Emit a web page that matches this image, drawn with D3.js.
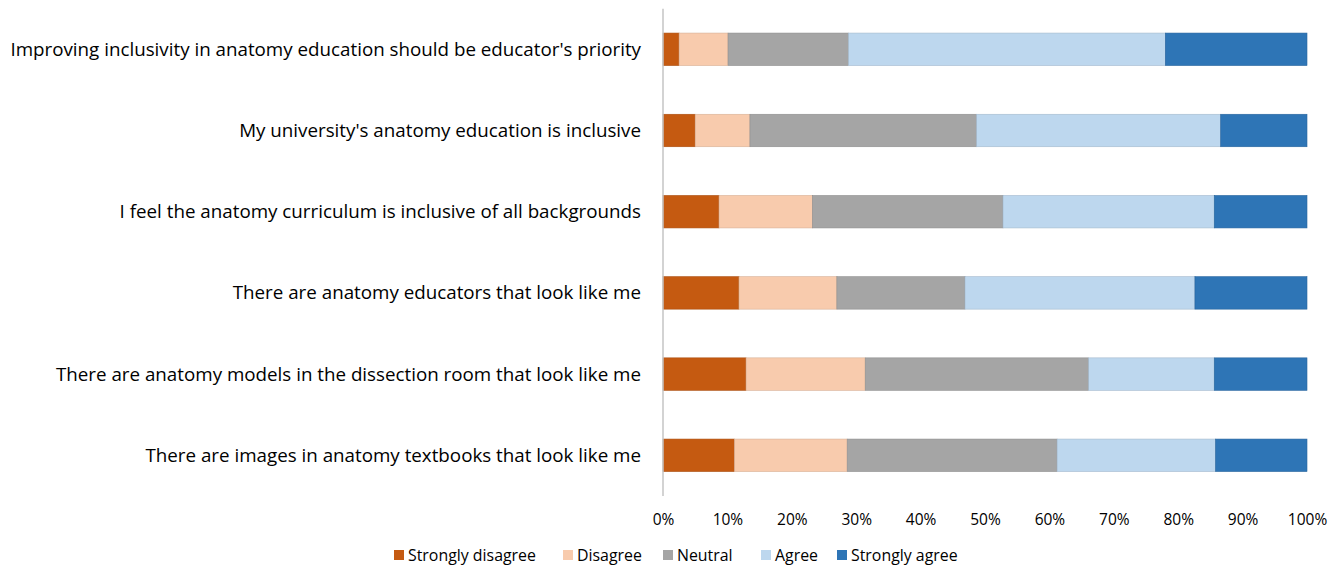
<!DOCTYPE html>
<html>
<head>
<meta charset="utf-8">
<script src="https://cdn.jsdelivr.net/npm/d3@7"></script>
<style>
    body { margin: 0; background: #fff; }
    svg text { font-family: "Open Sans", "Noto Sans", sans-serif; fill: #000; }
</style>
</head>
<body>
<div id="chart"></div>
<script>
// Các câu hỏi (từ trên xuống)
const categories = [
    "Improving inclusivity in anatomy education should be educator's priority",
    "My university's anatomy education is inclusive",
    "I feel the anatomy curriculum is inclusive of all backgrounds",
    "There are anatomy educators that look like me",
    "There are anatomy models in the dissection room that look like me",
    "There are images in anatomy textbooks that look like me"
];

const seriesNames = ["Strongly disagree", "Disagree", "Neutral", "Agree", "Strongly agree"];

// Phần trăm cho từng mức độ
const stronglyDisagree = [2.5, 5.0, 8.7, 11.8, 12.9, 11.1];
const disagree = [7.6, 8.5, 14.5, 15.2, 18.5, 17.5];
const neutral = [18.7, 35.2, 29.6, 19.9, 34.7, 32.6];
const agree = [49.2, 37.9, 32.8, 35.7, 19.5, 24.6];
const stronglyAgree = [22.0, 13.4, 14.4, 17.4, 14.4, 14.2];

const tickValues = [0, 10, 20, 30, 40, 50, 60, 70, 80, 90, 100];

const colors = ["#C55A11", "#F8CBAD", "#A5A5A5", "#BDD7EE", "#2E75B6"];

const width = 1341, height = 566;
const plot = { left: 663, right: 1307, top: 8.7, bottom: 495.9 };

// Gộp dữ liệu thành bảng cho d3.stack
const table = categories.map((c, i) => ({
    cat: c,
    "Strongly disagree": stronglyDisagree[i],
    "Disagree": disagree[i],
    "Neutral": neutral[i],
    "Agree": agree[i],
    "Strongly agree": stronglyAgree[i]
}));

const stacked = d3.stack().keys(seriesNames)(table);

const svg = d3.select("#chart")
    .append("svg")
    .attr("width", width)
    .attr("height", height);

const x = d3.scaleLinear()
    .domain([0, 100])
    .range([plot.left, plot.right]);

const y = d3.scaleBand()
    .domain(categories)
    .range([plot.top, plot.bottom])
    .paddingInner(0.6)
    .paddingOuter(0.3);

const color = d3.scaleOrdinal().domain(seriesNames).range(colors);

// Vẽ cột chồng
svg.append("g")
    .selectAll("g")
    .data(stacked)
    .join("g")
    .attr("fill", d => color(d.key))
    .attr("stroke", d => d3.color(color(d.key)).darker(0.4))
    .attr("stroke-width", 0.6)
    .selectAll("rect")
    .data(d => d)
    .join("rect")
    .attr("x", d => x(d[0]))
    .attr("y", d => y(d.data.cat))
    .attr("width", d => x(d[1]) - x(d[0]))
    .attr("height", y.bandwidth());

// Trục dọc (đường xám)
svg.append("line")
    .attr("x1", plot.left).attr("x2", plot.left)
    .attr("y1", plot.top).attr("y2", plot.bottom)
    .attr("stroke", "#c4c4c4")
    .attr("stroke-width", 1.5);

// Nhãn câu hỏi
const labels = svg.append("g")
    .selectAll("text")
    .data(categories)
    .join("text")
    .attr("x", 641)
    .attr("y", d => y(d) + y.bandwidth() / 2)
    .attr("dy", "0.35em")
    .attr("text-anchor", "end")
    .style("font-size", "100px")
    .text(d => d);

// Co giãn cỡ chữ cho khớp chiều rộng câu dài nhất (631px)
const w0 = labels.nodes()[0].getComputedTextLength();
labels.style("font-size", (100 * 631 / w0) + "px");

// Nhãn trục X
const xAxis = d3.axisBottom(x)
    .tickValues(tickValues)
    .tickFormat(d => d + "%")
    .tickSize(0)
    .tickPadding(0);

const gx = svg.append("g")
    .attr("transform", "translate(0,514)")
    .call(xAxis);
gx.select(".domain").remove();
gx.selectAll("text")
    .style("font-size", "15.5px")
    .style("font-family", "\"Open Sans\", sans-serif")
    .attr("fill", "#000");

// Chú thích
const legend = svg.append("g");
const legendX = [394, 563, 663, 761, 837];
seriesNames.forEach((s, i) => {
    const item = legend.append("g")
        .attr("transform", `translate(${legendX[i]},550)`);
    item.append("rect")
        .attr("width", 10)
        .attr("height", 10)
        .attr("fill", color(s));
    item.append("text")
        .attr("class", "legend-text")
        .attr("x", 14)
        .attr("y", 5)
        .attr("dy", "0.35em")
        .style("font-size", "100px")
        .text(s);
});
const lt = legend.selectAll(".legend-text");
const lw = lt.nodes()[0].getComputedTextLength();
lt.style("font-size", (100 * 128 / lw) + "px");
</script>
</body>
</html>
